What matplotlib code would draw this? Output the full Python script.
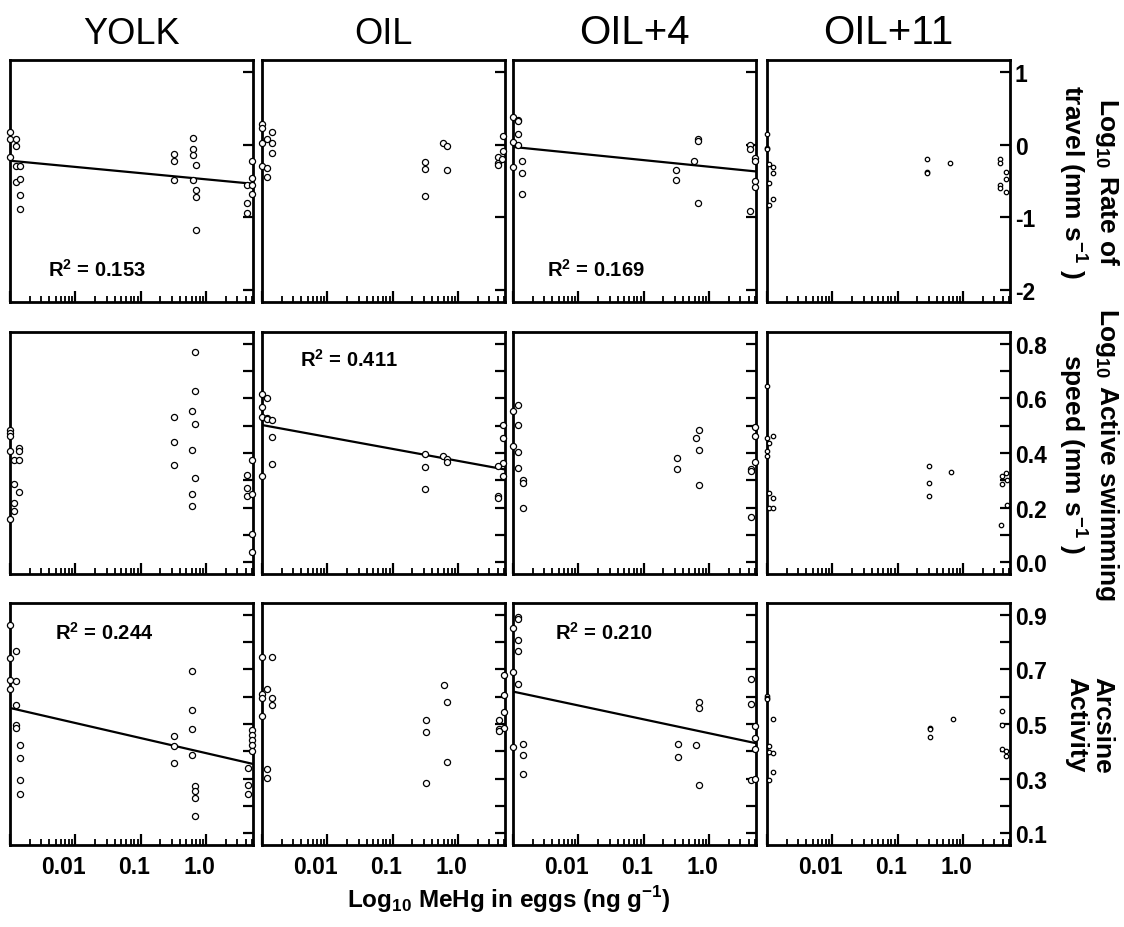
import numpy as np
import matplotlib
matplotlib.use("Agg")
import matplotlib.pyplot as plt
import matplotlib.transforms as mtrans
from matplotlib.ticker import LogLocator, NullFormatter

plt.rcParams['font.family'] = ['Liberation Sans', 'DejaVu Sans']
plt.rcParams['mathtext.fontset'] = 'custom'
plt.rcParams['mathtext.rm'] = 'Liberation Sans'
plt.rcParams['mathtext.bf'] = 'Liberation Sans:bold'

treatments = ['YOLK', 'OIL', 'OIL+4', 'OIL+11']

# --- row 1: log10 rate of travel ---
rate_yolk_x = [0.001, 0.001, 0.001, 0.00122, 0.00122, 0.00122, 0.00143, 0.00122, 0.00143, 0.00143, 0.00143,
               0.32, 0.32, 0.32, 0.62, 0.62, 0.62, 0.69, 0.62, 0.69, 0.69, 0.69,
               5.0, 5.0, 5.0, 4.2, 5.0, 4.2, 4.2]
rate_yolk_y = [0.175, 0.083, -0.175, 0.073, -0.023, -0.29, -0.29, -0.51, -0.47, -0.70, -0.89,
               -0.124, -0.22, -0.48, 0.10, -0.055, -0.138, -0.275, -0.48, -0.63, -0.72, -1.18,
               -0.22, -0.46, -0.675, -0.55, -0.56, -0.81, -0.94]
rate_oil_x = [0.001, 0.001, 0.001, 0.001, 0.00118, 0.00118, 0.00118, 0.00141, 0.00141, 0.00141,
              0.31, 0.31, 0.31, 0.59, 0.67, 0.67,
              4.9, 4.9, 4.1, 4.1, 4.6, 4.1]
rate_oil_y = [0.29, 0.23, 0.023, -0.29, 0.083, -0.32, -0.445, 0.175, 0.028, -0.12,
              -0.24, -0.335, -0.71, 0.028, -0.014, -0.35,
              0.12, -0.083, -0.17, -0.25, -0.2, -0.285]
rate_oil4_x = [0.001, 0.001, 0.001, 0.00118, 0.00118, 0.00118, 0.00118, 0.00139, 0.00139, 0.00139,
               0.31, 0.31, 0.59, 0.68, 0.68, 0.68,
               4.17, 4.17, 5.0, 5.0, 5.0, 5.0, 4.17]
rate_oil4_y = [0.39, 0.037, -0.31, 0.344, 0.33, 0.15, -0.01, -0.23, -0.386, -0.68,
               -0.35, -0.49, -0.225, 0.073, 0.055, -0.80,
               -0.01, -0.055, -0.18, -0.23, -0.505, -0.58, -0.91]
rate_oil11_x = [0.001, 0.001, 0.001, 0.00109, 0.00125, 0.00125, 0.00109, 0.00125, 0.00109,
                0.28, 0.28, 0.28, 0.62,
                3.7, 3.7, 4.5, 3.7, 3.7, 4.5, 4.5]
rate_oil11_y = [0.147, -0.046, -0.06, -0.27, -0.30, -0.386, -0.53, -0.75, -0.83,
                -0.197, -0.37, -0.395, -0.25,
                -0.2, -0.25, -0.37, -0.56, -0.59, -0.47, -0.65]

# --- row 2: log10 active swimming speed ---
speed_yolk_x = [0.001, 0.001, 0.001, 0.001, 0.001, 0.00116, 0.00116, 0.00116, 0.00116,
                0.00139, 0.00139, 0.00139, 0.00139,
                0.32, 0.32, 0.32, 0.67, 0.67, 0.60, 0.67, 0.60, 0.67, 0.60, 0.60,
                5.0, 4.2, 4.2, 4.2, 5.0, 5.0, 5.0]
speed_yolk_y = [0.486, 0.473, 0.464, 0.408, 0.158, 0.375, 0.285, 0.216, 0.188,
                0.418, 0.408, 0.375, 0.256,
                0.531, 0.441, 0.356, 0.772, 0.629, 0.554, 0.505, 0.411, 0.31, 0.25, 0.204,
                0.375, 0.32, 0.27, 0.243, 0.25, 0.103, 0.038]
speed_oil_x = [0.001, 0.001, 0.001, 0.001, 0.00118, 0.00118, 0.00118, 0.00141, 0.00141, 0.00141,
               0.31, 0.31, 0.31, 0.59, 0.68, 0.68,
               4.9, 4.9, 4.9, 4.1, 4.9, 4.1, 4.1]
speed_oil_y = [0.615, 0.57, 0.533, 0.314, 0.602, 0.528, 0.525, 0.522, 0.457, 0.36,
               0.395, 0.35, 0.269, 0.388, 0.378, 0.368,
               0.503, 0.454, 0.363, 0.351, 0.314, 0.241, 0.234]
speed_oil4_x = [0.001, 0.001, 0.00118, 0.00118, 0.00118, 0.00118, 0.00141, 0.00141, 0.00141,
                0.32, 0.32, 0.62, 0.70, 0.70, 0.70,
                5.0, 5.0, 5.0, 4.3, 4.3, 4.3]
speed_oil4_y = [0.553, 0.427, 0.576, 0.503, 0.405, 0.345, 0.301, 0.289, 0.2,
                0.383, 0.341, 0.455, 0.483, 0.412, 0.284,
                0.494, 0.464, 0.368, 0.341, 0.335, 0.164]
speed_oil11_x = [0.001, 0.001, 0.001, 0.001, 0.00109, 0.00125, 0.00109, 0.00125, 0.00109, 0.00125,
                 0.30, 0.30, 0.30, 0.65,
                 4.5, 3.9, 3.9, 4.7, 4.7, 3.8]
speed_oil11_y = [0.645, 0.454, 0.408, 0.39, 0.437, 0.462, 0.253, 0.234, 0.2, 0.2,
                 0.353, 0.29, 0.243, 0.331,
                 0.327, 0.317, 0.286, 0.30, 0.209, 0.137]

# --- row 3: arcsine activity ---
act_yolk_x = [0.001, 0.001, 0.001, 0.001, 0.00122, 0.00122, 0.00122, 0.00122, 0.00122,
              0.00143, 0.00143, 0.00143, 0.00143,
              0.32, 0.32, 0.32, 0.60, 0.60, 0.60, 0.60, 0.68, 0.68, 0.68, 0.68,
              5.0, 5.0, 5.0, 5.0, 5.0, 4.3, 4.3, 4.3]
act_yolk_y = [0.863, 0.741, 0.662, 0.628, 0.767, 0.656, 0.568, 0.495, 0.485,
              0.422, 0.376, 0.295, 0.242,
              0.455, 0.419, 0.358, 0.696, 0.55, 0.483, 0.386, 0.273, 0.254, 0.227, 0.163,
              0.477, 0.458, 0.44, 0.422, 0.40, 0.337, 0.276, 0.242]
act_oil_x = [0.001, 0.001, 0.001, 0.001, 0.00118, 0.00118, 0.00118, 0.00141, 0.00141, 0.00141,
             0.32, 0.32, 0.32, 0.60, 0.68, 0.68,
             5.0, 5.0, 5.0, 4.2, 4.2, 5.0, 4.2]
act_oil_y = [0.747, 0.61, 0.595, 0.528, 0.628, 0.334, 0.303, 0.747, 0.597, 0.568,
             0.513, 0.471, 0.282, 0.644, 0.582, 0.36,
             0.68, 0.605, 0.543, 0.516, 0.48, 0.486, 0.476]
act_oil4_x = [0.001, 0.001, 0.001, 0.00118, 0.00118, 0.00118, 0.00118, 0.00118, 0.00141, 0.00141, 0.00141,
              0.33, 0.33, 0.62, 0.70, 0.70, 0.70,
              4.3, 4.3, 5.1, 5.1, 5.1, 4.3, 5.1]
act_oil4_y = [0.853, 0.69, 0.416, 0.891, 0.885, 0.81, 0.769, 0.647, 0.425, 0.388, 0.315,
              0.427, 0.38, 0.424, 0.58, 0.559, 0.276,
              0.665, 0.574, 0.492, 0.449, 0.407, 0.295, 0.3]
act_oil11_x = [0.001, 0.001, 0.001, 0.00125, 0.00109, 0.00109, 0.00125, 0.00125, 0.00109,
               0.31, 0.31, 0.31, 0.70,
               3.9, 3.9, 3.9, 4.5, 4.5]
act_oil11_y = [0.601, 0.595, 0.59, 0.517, 0.419, 0.397, 0.392, 0.324, 0.295,
               0.486, 0.483, 0.451, 0.517,
               0.549, 0.498, 0.409, 0.40, 0.382]

# regression lines: (intercept, slope) vs log10(MeHg), and R^2
rate_yolk_fit = (-0.477, -0.0856)
rate_oil4_fit = (-0.303, -0.091)
speed_oil_fit = (0.371, -0.0439)
act_yolk_fit = (0.393, -0.0553)
act_oil4_fit = (0.466, -0.051)

panels = [
    [(rate_yolk_x, rate_yolk_y, rate_yolk_fit, '0.153'),
     (rate_oil_x, rate_oil_y, None, None),
     (rate_oil4_x, rate_oil4_y, rate_oil4_fit, '0.169'),
     (rate_oil11_x, rate_oil11_y, None, None)],
    [(speed_yolk_x, speed_yolk_y, None, None),
     (speed_oil_x, speed_oil_y, speed_oil_fit, '0.411'),
     (speed_oil4_x, speed_oil4_y, None, None),
     (speed_oil11_x, speed_oil11_y, None, None)],
    [(act_yolk_x, act_yolk_y, act_yolk_fit, '0.244'),
     (act_oil_x, act_oil_y, None, None),
     (act_oil4_x, act_oil4_y, act_oil4_fit, '0.210'),
     (act_oil11_x, act_oil11_y, None, None)],
]

row_ylim = [(-2.17, 1.17), (-0.044, 0.844), (0.056, 0.944)]
row_ticks = [[-2, -1, 0, 1],
             [0.0, 0.1, 0.2, 0.3, 0.4, 0.5, 0.6, 0.7, 0.8],
             [0.1, 0.2, 0.3, 0.4, 0.5, 0.6, 0.7, 0.8, 0.9]]
row_ticklabels = [['-2', '-1', '0', '1'],
                  ['0.0', '', '0.2', '', '0.4', '', '0.6', '', '0.8'],
                  ['0.1', '', '0.3', '', '0.5', '', '0.7', '', '0.9']]
row_labels = [r'Log$_{\mathbf{10}}$ Rate of' + '\n' + r'travel (mm s$^{\mathbf{-1}}$ )',
              r'Log$_{\mathbf{10}}$ Active swimming' + '\n' + r'speed (mm s$^{\mathbf{-1}}$ )',
              'Arcsine\nActivity']
# R^2 label placement (axes fraction)
r2_pos = {(0, 0): (0.156, 0.107), (0, 2): (0.138, 0.11), (1, 1): (0.156, 0.86),
          (2, 0): (0.185, 0.851), (2, 2): (0.172, 0.851)}

W, H = 1124, 928
fig = plt.figure(figsize=(W / 100, H / 100), dpi=100)

col_left = [10, 262, 513, 767]
row_bottom = [303, 575, 846]
ax_w, ax_h = 243, 242
xlim = (0.001, 5.2)
xlabel_shift = [0, -12, -7, -7]  # px, labels sit a bit left of their ticks

for r in range(3):
    for c in range(4):
        ax = fig.add_axes([col_left[c] / W, 1 - row_bottom[r] / H, ax_w / W, ax_h / H])
        xs, ys, fit, r2 = panels[r][c]
        ms = 3.2 if c == 3 else 4.4
        ax.plot(xs, ys, 'o', mfc='white', mec='black', ms=ms, mew=0.9, clip_on=False, zorder=3)
        if fit is not None:
            xl = np.geomspace(xlim[0], xlim[1], 2)
            ax.plot(xl, fit[0] + fit[1] * np.log10(xl), color='black', lw=1.6, zorder=2)
            px, py = r2_pos[(r, c)]
            ax.text(px, py, r'R$^{\mathbf{2}}$ = ' + r2, transform=ax.transAxes,
                    fontsize=14.5, fontweight='bold', va='baseline', ha='left')
        ax.set_xscale('log')
        ax.set_xlim(*xlim)
        ax.set_ylim(*row_ylim[r])
        ax.xaxis.set_minor_locator(LogLocator(base=10, subs=np.arange(2, 10)))
        ax.xaxis.set_minor_formatter(NullFormatter())
        ax.set_xticks([0.001, 0.01, 0.1, 1.0])
        if r == 2:
            ax.set_xticklabels(['', '0.01', '0.1', '1.0'])
        else:
            ax.set_xticklabels([])
        ax.tick_params(axis='x', which='major', direction='in', length=8, width=1.6,
                       labelsize=16.5, pad=7, top=False)
        ax.tick_params(axis='x', which='minor', direction='in', length=4.5, width=1.3, top=False)
        for lab, dx in zip(ax.get_xticklabels(), xlabel_shift):
            lab.set_fontweight('bold')
            lab.set_transform(lab.get_transform() +
                              mtrans.ScaledTranslation(dx / 100, 0, fig.dpi_scale_trans))
        ax.yaxis.tick_right()
        ax.set_yticks(row_ticks[r])
        if c == 3:
            ax.set_yticklabels(row_ticklabels[r])
        else:
            ax.set_yticklabels([])
        ax.tick_params(axis='y', which='major', direction='in', length=7, width=1.6,
                       labelsize=16.5, pad=3.5, left=False, right=True)
        for lab in ax.get_yticklabels():
            lab.set_fontweight('bold')
        for sp in ax.spines.values():
            sp.set_linewidth(2)
        if r == 0:
            ax.set_title(treatments[c], fontsize=26 if c < 2 else 29, pad=12)

for r in range(3):
    yc = 1 - (row_bottom[r] - ax_h / 2) / H
    fig.text(1089 / W, yc, row_labels[r], rotation=270, ha='center', va='center',
             multialignment='center', fontsize=19, fontweight='bold', linespacing=1.1)

fig.text(509 / W, 1 - 900 / H, r'Log$_{\mathbf{10}}$ MeHg in eggs (ng g$^{\mathbf{-1}}$)',
         ha='center', va='center', fontsize=17.5, fontweight='bold')

fig.savefig('out.png', dpi=100)
